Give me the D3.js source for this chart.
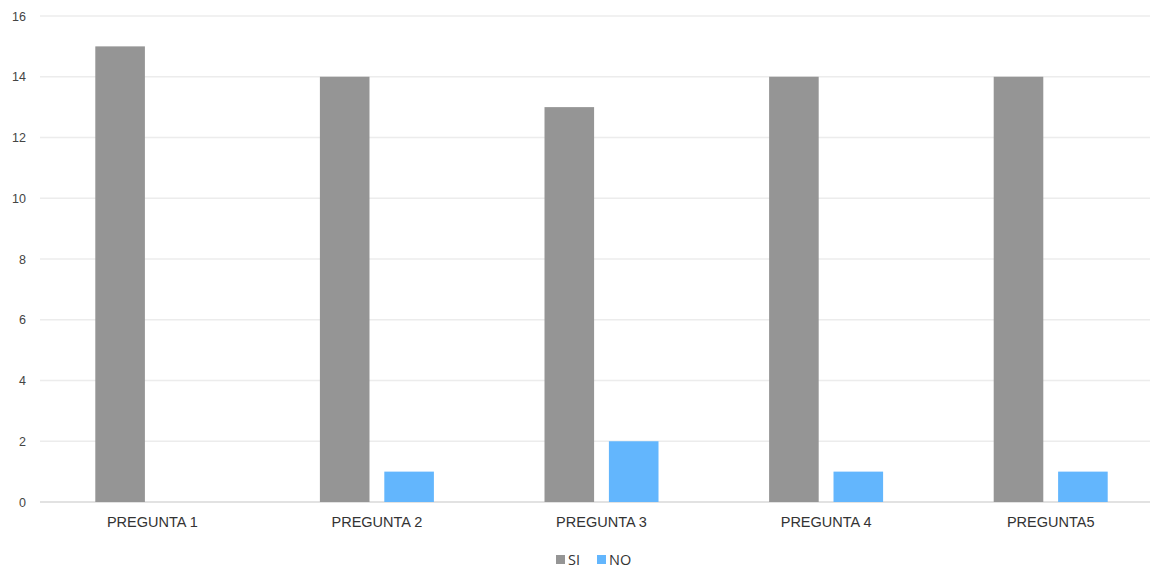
<!DOCTYPE html>
<html>
<head>
<meta charset="utf-8">
<script src="https://cdn.jsdelivr.net/npm/d3@7/dist/d3.min.js"></script>
<style>
  html, body { margin: 0; padding: 0; background: #fff; }
  svg { display: block; font-family: "Open Sans", "DejaVu Sans", sans-serif; }
</style>
</head>
<body>
<svg id="chart" width="1157" height="568"></svg>
<script>
// Survey answers per question
const categories = ["PREGUNTA 1", "PREGUNTA 2", "PREGUNTA 3", "PREGUNTA 4", "PREGUNTA5"];
const seriesNames = ["SI", "NO"];
const siValues = [15, 14, 13, 14, 14];
const noValues = [0, 1, 2, 1, 1];
const yTicks = [0, 2, 4, 6, 8, 10, 12, 14, 16];
const colors = { SI: "#959595", NO: "#63b6fd" };

(function () {
  const svg = d3.select("#chart");
  const plotLeft = 40, plotRight = 1163, plotTop = 16, plotBottom = 502, gridRight = 1150;

  const x = d3.scaleBand().domain(categories).range([plotLeft, plotRight]).paddingInner(0).paddingOuter(0);
  const x1 = d3.scaleBand().domain(seriesNames)
    .range([x.bandwidth() / 2 - 57, x.bandwidth() / 2 + 57]).paddingInner(0.23);
  const y = d3.scaleLinear().domain([0, 16]).range([plotBottom, plotTop]);

  // gridlines
  svg.append("g").selectAll("line").data(yTicks).join("line")
    .attr("x1", plotLeft).attr("x2", gridRight)
    .attr("y1", d => y(d)).attr("y2", d => y(d))
    .attr("stroke", d => d === 0 ? "#e2e2e2" : "#ececec")
    .attr("stroke-width", d => d === 0 ? 2 : 1.5);

  // y axis labels
  const yAxis = d3.axisLeft(y).tickValues(yTicks).tickSize(0).tickPadding(0);
  const ya = svg.append("g").attr("transform", "translate(26,0)").call(yAxis);
  ya.select(".domain").remove();
  ya.selectAll("text").attr("fill", "#444").style("font-size", "12.5px");

  // bars
  const rows = categories.map((c, i) => ({ cat: c, SI: siValues[i], NO: noValues[i] }));
  const groups = svg.append("g").selectAll("g").data(rows).join("g")
    .attr("transform", d => `translate(${x(d.cat)},0)`);
  groups.selectAll("rect")
    .data(d => seriesNames.map(k => ({ key: k, value: d[k] })).filter(v => v.value > 0))
    .join("rect")
    .attr("x", d => x1(d.key))
    .attr("width", x1.bandwidth())
    .attr("y", d => y(d.value))
    .attr("height", d => y(0) - y(d.value))
    .attr("fill", d => colors[d.key]);

  // x axis labels
  const xAxis = d3.axisBottom(x).tickSize(0).tickPadding(0);
  const xa = svg.append("g").attr("transform", `translate(0,${plotBottom + 15})`).call(xAxis);
  xa.select(".domain").remove();
  xa.selectAll("text").attr("fill", "#333").style("font-size", "14.5px").attr("dy", "0.71em");

  // legend
  const legend = svg.append("g").attr("transform", "translate(556,560)");
  const items = [{ k: "SI", dx: 0 }, { k: "NO", dx: 41 }];
  const li = legend.selectAll("g").data(items).join("g").attr("transform", d => `translate(${d.dx},0)`);
  li.append("rect").attr("x", 0).attr("y", -5).attr("width", 9).attr("height", 9).attr("fill", d => colors[d.k]);
  li.append("text").attr("x", 12).attr("y", 0).attr("dy", "0.35em")
    .attr("fill", "#333").style("font-size", "14.5px").text(d => d.k);
})();
</script>
</body>
</html>
